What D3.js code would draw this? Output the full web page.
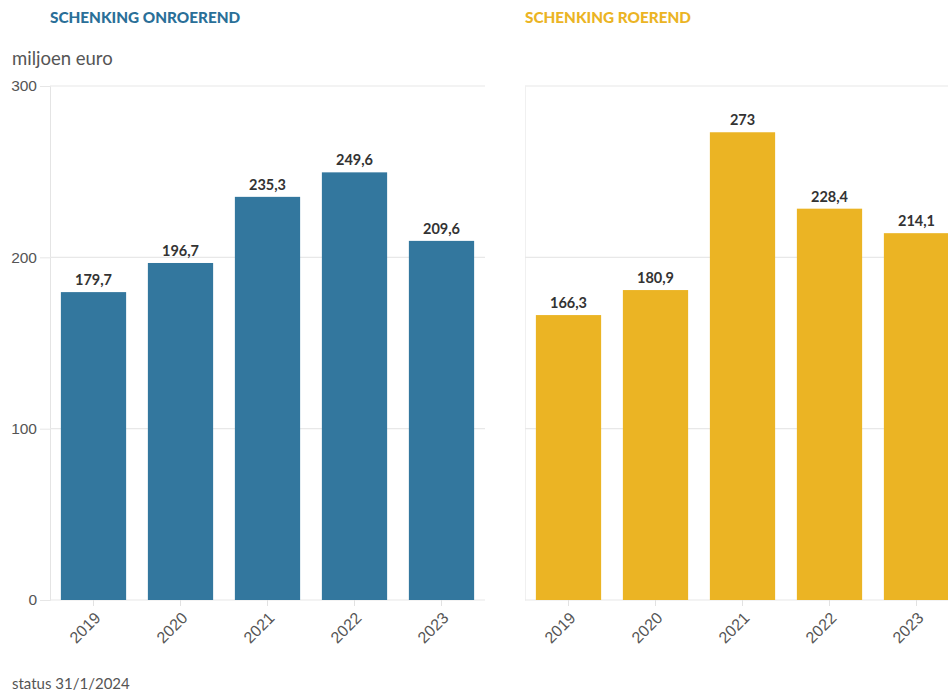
<!DOCTYPE html>
<html><head><meta charset="utf-8">
<script src="https://cdn.jsdelivr.net/npm/d3@7"></script>
<style>
body{margin:0;background:#fff;}
svg{display:block;font-family:"Lato","Noto Sans",sans-serif;}
</style></head>
<body><svg id="c" width="948" height="693"></svg>
<script>
const years = ["2019","2020","2021","2022","2023"];
const onroerend = [179.7,196.7,235.3,249.6,209.6];
const roerend = [166.3,180.9,273,228.4,214.1];
const yTicks = [0,100,200,300];
const panelTitles = ["SCHENKING ONROEREND","SCHENKING ROEREND"];
const colors = ["#33779e","#ebb424"];
const titleColors = ["#2a6f98","#ebb424"];
const yLabel = "miljoen euro";
const note = "status 31/1/2024";

(function(){
const svg = d3.select("#c");
const plotTop = 86, plotBottom = 600, pw = 435;
const offsets = [50, 525];
const y = d3.scaleLinear().domain([0,300]).range([plotBottom, plotTop]);
const fmt = v => String(v).replace(".", ",");

[onroerend, roerend].forEach((vals, i) => {
  const x0 = offsets[i];
  const x = d3.scaleBand().domain(years).range([x0, x0 + pw]).paddingInner(0.25).paddingOuter(0.125);
  const g = svg.append("g");
  const ya = d3.axisLeft(y).tickValues(yTicks).tickSize(i === 0 ? 10 : 0).tickPadding(3);
  const gy = g.append("g").attr("transform", `translate(${x0},0)`).call(ya);
  gy.select(".domain").attr("stroke", i === 0 ? "#e4e4e4" : "#f0f0f0");
  gy.selectAll(".tick line").attr("stroke", "#e6e6e6");
  gy.selectAll(".tick text").attr("fill", "#555").style("font-size", "15.5px")
    .style("display", i === 0 ? null : "none");
  g.append("g").selectAll("line").data(yTicks).join("line")
    .attr("x1", x0).attr("x2", x0 + pw)
    .attr("y1", d => y(d)).attr("y2", d => y(d))
    .attr("stroke", "#e8e8e8").attr("stroke-width", 1.2);
  g.append("g").selectAll("rect").data(vals).join("rect")
    .attr("x", (d, j) => x(years[j])).attr("width", x.bandwidth())
    .attr("y", d => y(d)).attr("height", d => y(0) - y(d))
    .attr("fill", colors[i]);
  g.append("g").selectAll("text").data(vals).join("text")
    .attr("x", (d, j) => x(years[j]) + x.bandwidth() / 2)
    .attr("y", d => y(d) - 7)
    .attr("text-anchor", "middle").attr("fill", "#333")
    .style("font-size", "14.5px").style("font-weight", "bold")
    .text(fmt);
  const xa = d3.axisBottom(x).tickSize(6).tickPadding(4);
  const gx = g.append("g").attr("transform", `translate(0,${plotBottom})`).call(xa);
  gx.select(".domain").remove();
  gx.selectAll(".tick line").attr("stroke", "#e2e2e2");
  gx.selectAll(".tick text").attr("fill", "#555").style("font-size", "16px")
    .attr("text-anchor", "end")
    .attr("x", 0).attr("y", 0).attr("dy", 0)
    .attr("transform", "translate(8,19) rotate(-45)");
  svg.append("text").attr("x", x0).attr("y", 23)
    .attr("fill", titleColors[i])
    .style("font-size", "15.3px").style("font-weight", "900")
    .text(panelTitles[i]);
});

svg.append("text").attr("x", 12).attr("y", 65).attr("fill", "#555").style("font-size", "18.5px").text(yLabel);
svg.append("text").attr("x", 12).attr("y", 689).attr("fill", "#555").style("font-size", "15px").text(note);
})();
</script></body></html>
